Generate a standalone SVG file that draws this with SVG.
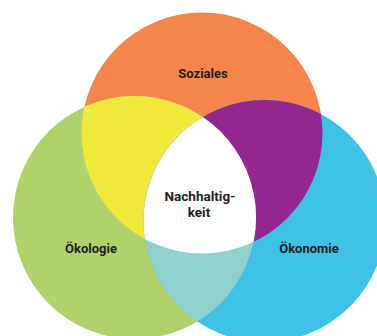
<svg xmlns="http://www.w3.org/2000/svg" width="377" height="336" viewBox="0 0 377 336">
  <style>
    .lbl { font-family: Roboto, "Liberation Sans", sans-serif; font-weight: 700; font-size: 13px; fill: #231f20; text-anchor: middle; }
    .ctr { font-size: 13.5px; }
  </style>
  <defs>
    <clipPath id="clipSoz"><circle cx="202" cy="133" r="120.5"/></clipPath>
    <clipPath id="clipOek"><circle cx="134.5" cy="217.5" r="121.5"/></clipPath>
  </defs>
  <rect width="377" height="336" fill="#ffffff"/>

  <g id="soziales">
    <circle cx="202" cy="133" r="120.5" fill="#f5854a"/>
  </g>
  <g id="oekologie">
    <circle cx="134.5" cy="217.5" r="121.5" fill="#afd26b"/>
  </g>
  <g id="oekonomie">
    <circle cx="264.5" cy="221" r="121" fill="#3dc2e5"/>
  </g>

  <!-- overlaps of two circles -->
  <g id="overlaps">
    <circle cx="134.5" cy="217.5" r="121.5" fill="#f0e83b" clip-path="url(#clipSoz)"/>
    <circle cx="264.5" cy="221" r="121" fill="#93268f" clip-path="url(#clipSoz)"/>
    <circle cx="264.5" cy="221" r="121" fill="#8fd1cd" clip-path="url(#clipOek)"/>
  </g>

  <!-- centre where all three meet -->
  <g id="nachhaltigkeit">
    <g clip-path="url(#clipSoz)">
      <g clip-path="url(#clipOek)">
        <circle cx="264.5" cy="221" r="121" fill="#ffffff"/>
      </g>
    </g>
  </g>

  <g id="labels">
    <text class="lbl" x="203" y="78">Soziales</text>
    <text class="lbl" x="91" y="253">Ökologie</text>
    <text class="lbl" x="309" y="253">Ökonomie</text>
    <text class="lbl ctr"><tspan x="200" y="201">Nachhaltig-</tspan><tspan x="199" y="217">keit</tspan></text>
  </g>
</svg>
